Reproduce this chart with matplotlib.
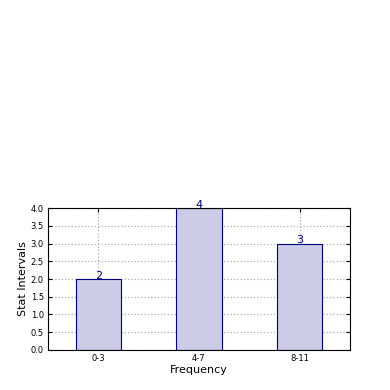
import matplotlib
matplotlib.use("Agg")
import matplotlib.pyplot as plt

categories = ["0-3", "4-7", "8-11"]
values = [2, 4, 3]
yticks = [0.0, 0.5, 1.0, 1.5, 2.0, 2.5, 3.0, 3.5, 4.0]

fig = plt.figure(figsize=(3.9, 3.9), dpi=100)
ax = fig.add_axes([0.123, 0.1026, 0.774, 0.364])
x = list(range(len(categories)))
ax.bar(x, values, width=0.45, color="#ccccE6", edgecolor="navy", linewidth=0.8, zorder=2)
for xi, v in zip(x, values):
    ax.annotate(str(v), (xi, v), xytext=(0, 0.3), textcoords="offset points",
                ha="center", va="baseline", color="navy", fontsize=8, zorder=3)
ax.set_xlim(-0.5, 2.5)
ax.set_ylim(0, 4)
ax.set_yticks(yticks)
ax.set_yticklabels([f"{t:.1f}" for t in yticks])
ax.set_xticks(x)
ax.set_xticklabels(categories)
ax.tick_params(direction="in", labelsize=6, length=3, top=True, right=True, pad=3)
ax.grid(True, linestyle=":", color="#b0b0b0", linewidth=0.9, zorder=0)
ax.set_axisbelow(True)
ax.set_xlabel("Frequency", fontsize=8, labelpad=1)
ax.set_ylabel("Stat Intervals", fontsize=8, labelpad=2)
for s in ax.spines.values():
    s.set_linewidth(0.8)
fig.savefig("out.png", dpi=100)
